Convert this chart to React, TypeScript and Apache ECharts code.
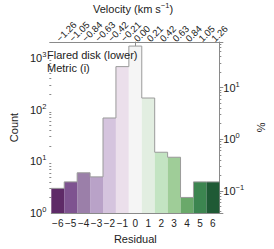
import React, { useEffect, useRef } from "react";
import * as echarts from "echarts";

const residuals = [-6, -5, -4, -3, -2, -1, 0, 1, 2, 3, 4, 5, 6];
const residualLabels = ["−6", "−5", "−4", "−3", "−2", "−1", "0", "1", "2", "3", "4", "5", "6"];
const velocityLabels = ["−1.26", "−1.05", "−0.84", "−0.63", "−0.42", "−0.21", "0.00", "0.21", "0.42", "0.63", "0.84", "1.05", "1.26"];
const counts = [3, 4, 6, 5, 69, 681, 1700, 168, 15, 12, 2, 4, 4];
const barColors = [
  "#5e2a67", "#7e5390", "#9b7fa9", "#b9a2c8", "#d5c4de", "#ebdfeb", "#f5f5f5",
  "#e2eee1", "#c3e4c2", "#9fcd98", "#6aa96a", "#3c8550", "#1f5a35",
];
const countMin = 1;
const countMax = 2040;
const minorCountTicks = [2, 3, 4, 5, 6, 7, 8, 9, 20, 30, 40, 50, 60, 70, 80, 90, 200, 300, 400, 500, 600, 700, 800, 900, 2000];
const minorPctTicks = [0.04, 0.05, 0.06, 0.07, 0.08, 0.09, 0.2, 0.3, 0.4, 0.5, 0.6, 0.7, 0.8, 0.9, 2, 3, 4, 5, 6, 7, 8, 9, 20, 30, 40, 50, 60, 70];

const FONT = "Liberation Sans";
const AXIS_COLOR = "#8a8a8a";
const TEXT_COLOR = "#222";

function isPow10(v: number) {
  const l = Math.log10(v);
  return Math.abs(l - Math.round(l)) < 1e-6;
}
function powLabel(v: number) {
  if (!isPow10(v)) return "";
  const e = Math.round(Math.log10(v));
  const es = e < 0 ? "−" + Math.abs(e) : String(e);
  return `{b|10}{s|${es}}`;
}
const supRich = {
  b: { fontSize: 11, fontFamily: FONT, color: TEXT_COLOR, lineHeight: 14 },
  s: { fontSize: 7.5, fontFamily: FONT, color: TEXT_COLOR, lineHeight: 14, padding: [0, 0, 7, 0] },
};

export default function App() {
  const ref = useRef<HTMLDivElement>(null);
  useEffect(() => {
    if (!ref.current) return;
    document.body.style.margin = "0";
    const chart = echarts.init(ref.current, undefined, { renderer: "svg" });
    const total = counts.reduce((a, b) => a + b, 0);
    const pctMin = (countMin / total) * 100;
    const pctMax = (countMax / total) * 100;
    const edges = residuals.map((r) => r - 0.5).concat([residuals[residuals.length - 1] + 0.5]);
    const outline = edges.map((x, i) => [x, counts[Math.min(i, counts.length - 1)]]);

    chart.setOption({
      animation: false,
      textStyle: { fontFamily: FONT },
      grid: { left: 39, right: 41, top: 42, bottom: 33, show: false },
      xAxis: [
        {
          type: "category",
          data: residualLabels,
          position: "bottom",
          boundaryGap: true,
          axisLine: { lineStyle: { color: AXIS_COLOR } },
          axisTick: { alignWithLabel: true, length: 3, lineStyle: { color: AXIS_COLOR } },
          axisLabel: { color: TEXT_COLOR, fontSize: 10, fontFamily: FONT, margin: 5, interval: 0 },
          name: "Residual",
          nameLocation: "middle",
          nameGap: 20,
          nameTextStyle: { color: TEXT_COLOR, fontSize: 11, fontFamily: FONT },
        },
        {
          type: "category",
          data: velocityLabels,
          position: "top",
          boundaryGap: true,
          axisLine: { lineStyle: { color: AXIS_COLOR } },
          axisTick: { alignWithLabel: true, length: 3, lineStyle: { color: AXIS_COLOR } },
          axisLabel: { color: TEXT_COLOR, fontSize: 9.5, fontFamily: FONT, rotate: -45, margin: 2, interval: 0 },
        },
        {
          type: "value",
          min: -6.5,
          max: 6.5,
          show: false,
        },
      ],
      yAxis: [
        {
          type: "log",
          min: countMin,
          max: countMax,
          position: "left",
          axisLine: { show: true, lineStyle: { color: AXIS_COLOR } },
          axisTick: { show: true, length: 4, lineStyle: { color: AXIS_COLOR } },
          splitLine: { show: false },
          axisLabel: { formatter: powLabel, rich: supRich, margin: 5 },
          name: "Count",
          nameLocation: "middle",
          nameGap: 28,
          nameTextStyle: { color: TEXT_COLOR, fontSize: 11, fontFamily: FONT },
        },
        {
          type: "log",
          min: pctMin,
          max: pctMax,
          position: "right",
          axisLine: { show: true, lineStyle: { color: AXIS_COLOR } },
          axisTick: { show: true, length: 4, lineStyle: { color: AXIS_COLOR } },
          splitLine: { show: false },
          axisLabel: { formatter: powLabel, rich: supRich, margin: 4 },
          name: "%",
          nameLocation: "middle",
          nameGap: 33,
          nameRotate: -90,
          nameTextStyle: { color: TEXT_COLOR, fontSize: 11, fontFamily: FONT },
        },
        {
          type: "log",
          min: countMin,
          max: countMax,
          position: "left",
          axisLine: { show: false },
          axisTick: { show: true, length: 2, lineStyle: { color: AXIS_COLOR }, customValues: minorCountTicks },
          axisLabel: { show: false },
          splitLine: { show: false },
        },
        {
          type: "log",
          min: pctMin,
          max: pctMax,
          position: "right",
          axisLine: { show: false },
          axisTick: { show: true, length: 2, lineStyle: { color: AXIS_COLOR }, customValues: minorPctTicks },
          axisLabel: { show: false },
          splitLine: { show: false },
        },
      ],
      series: [
        {
          type: "bar",
          xAxisIndex: 0,
          yAxisIndex: 0,
          barCategoryGap: "0%",
          data: counts.map((c, i) => ({ value: c, itemStyle: { color: barColors[i] } })),
        },
        {
          type: "line",
          xAxisIndex: 2,
          yAxisIndex: 0,
          step: "end",
          symbol: "none",
          lineStyle: { color: "#9a9a9a", width: 1 },
          data: outline,
          z: 3,
        },
      ],
      graphic: [
        {
          type: "text",
          left: 47,
          top: 49,
          z: 10,
          style: { text: "Flared disk (lower)", fontSize: 11, fontFamily: FONT, fill: TEXT_COLOR },
        },
        {
          type: "text",
          left: 47,
          top: 62,
          z: 10,
          style: { text: "Metric (i)", fontSize: 11, fontFamily: FONT, fill: TEXT_COLOR },
        },
        {
          type: "text",
          left: 93,
          top: 1,
          z: 10,
          style: {
            text: "{a|Velocity (km s}{s|−1}{a|)}",
            rich: {
              a: { fontSize: 11, fontFamily: FONT, fill: TEXT_COLOR, lineHeight: 14 },
              s: { fontSize: 7.5, fontFamily: FONT, fill: TEXT_COLOR, lineHeight: 14, padding: [0, 0, 7, 0] },
            },
          },
        },
      ],
    });
    return () => chart.dispose();
  }, []);
  return <div ref={ref} style={{ width: 274, height: 249 }} />;
}
